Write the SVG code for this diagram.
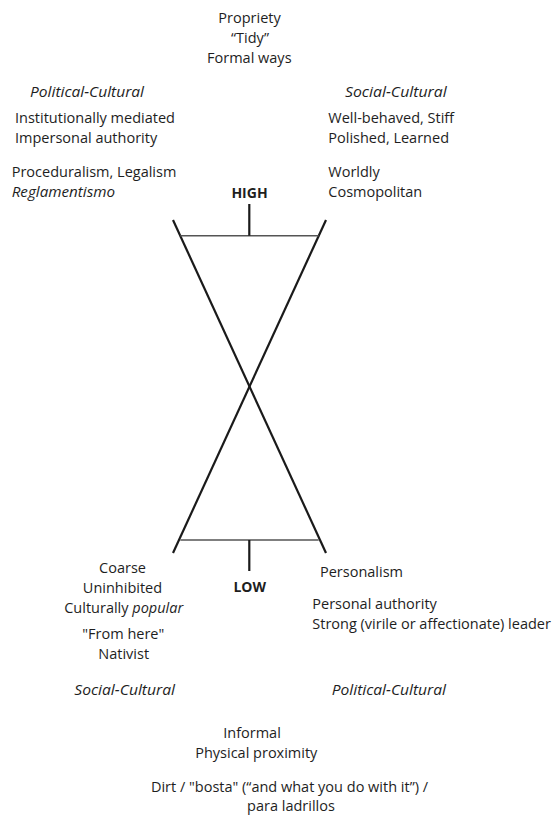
<svg xmlns="http://www.w3.org/2000/svg" width="553" height="821" viewBox="0 0 553 821">
<style>
text{font-family:"Open Sans","Noto Sans","Liberation Sans",sans-serif;font-size:14.5px;fill:#1e1e1e}
.i{font-style:italic}
.b{font-weight:bold;font-size:14px}
.m{text-anchor:middle}
.diag{stroke:#1a1a1a;stroke-width:2.2;fill:none}
.bar{stroke:#555;stroke-width:1.6;fill:none}
.tick{stroke:#1a1a1a;stroke-width:2.2;fill:none}
</style>
<rect width="553" height="821" fill="#fff"/>
<g id="connectors">
<line class="diag" x1="173" y1="220" x2="326" y2="553"/>
<line class="diag" x1="326" y1="220" x2="173" y2="553"/>
<line class="bar" x1="180.3" y1="235.7" x2="318.7" y2="235.7"/>
<line class="bar" x1="180.3" y1="540" x2="318.7" y2="540"/>
<line class="tick" x1="249.3" y1="204" x2="249.3" y2="235.7"/>
<line class="tick" x1="249.3" y1="540" x2="249.3" y2="571"/>
</g>
<g id="top">
<text class="m" x="249.5" y="22.8">Propriety</text>
<text class="m" x="250" y="42.8">“Tidy”</text>
<text class="m" x="249.3" y="62.7">Formal ways</text>
</g>
<g id="high"><text class="m b" x="249.5" y="198.3">HIGH</text></g>
<g id="low"><text class="m b" x="249.7" y="591.7">LOW</text></g>
<g id="top-left">
<text class="i" x="30" y="96.7" textLength="114" lengthAdjust="spacingAndGlyphs">Political-Cultural</text>
<text x="15" y="122.7">Institutionally mediated</text>
<text x="15" y="143.3">Impersonal authority</text>
<text x="11.7" y="177.3">Proceduralism, Legalism</text>
<text class="i" x="11.7" y="196.7" textLength="103.3" lengthAdjust="spacingAndGlyphs">Reglamentismo</text>
</g>
<g id="top-right">
<text class="i" x="345" y="96.7" textLength="101.7" lengthAdjust="spacingAndGlyphs">Social-Cultural</text>
<text x="328.3" y="122.7">Well-behaved, Stiff</text>
<text x="328.3" y="143.3">Polished, Learned</text>
<text x="328.3" y="177.3">Worldly</text>
<text x="328.3" y="196.7">Cosmopolitan</text>
</g>
<g id="bottom-left">
<text class="m" x="122.5" y="573.3">Coarse</text>
<text class="m" x="122.5" y="592.7">Uninhibited</text>
<text class="m" x="123.7" y="612.7">Culturally <tspan class="i">popular</tspan></text>
<text class="m" x="123.3" y="639.3">"From here"</text>
<text class="m" x="123.7" y="659.3">Nativist</text>
<text class="i" x="74.3" y="695" textLength="100.7" lengthAdjust="spacingAndGlyphs">Social-Cultural</text>
</g>
<g id="bottom-right">
<text x="320" y="576.7">Personalism</text>
<text x="312.3" y="609.3">Personal authority</text>
<text x="312.3" y="629.3">Strong (virile or affectionate) leader</text>
<text class="i" x="331.7" y="695" textLength="114.3" lengthAdjust="spacingAndGlyphs">Political-Cultural</text>
</g>
<g id="bottom">
<text class="m" x="252" y="738.3">Informal</text>
<text class="m" x="256.3" y="758.3">Physical proximity</text>
<text class="m" x="289.5" y="791.7">Dirt / "bosta" (“and what you do with it”) /</text>
<text class="m" x="291" y="810.7">para ladrillos</text>
</g>
</svg>
